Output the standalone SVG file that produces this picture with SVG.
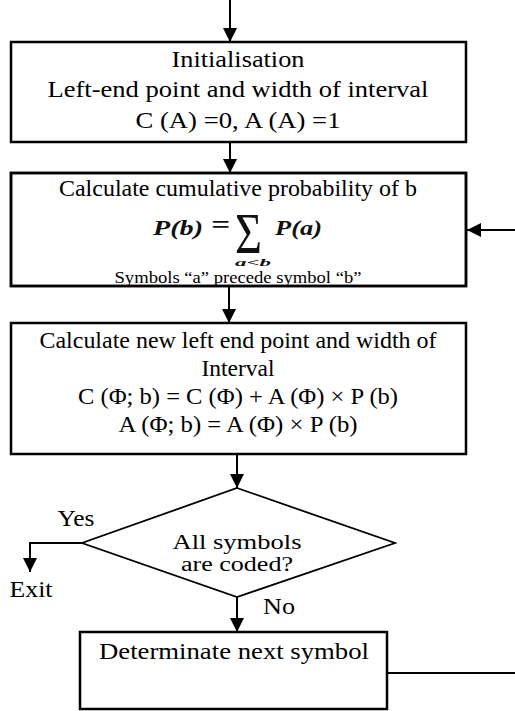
<svg xmlns="http://www.w3.org/2000/svg" width="515" height="711" viewBox="0 0 515 711">
<style>
.box{fill:#fff;stroke:#000;stroke-width:2.5}
.dia{fill:#fff;stroke:#000;stroke-width:1.8}
.ln{fill:none;stroke:#000;stroke-width:2}
.t{font-family:"Liberation Serif","Times New Roman",serif;font-size:23px;fill:#000;text-anchor:middle}
.d{font-family:"Liberation Serif","Times New Roman",serif;font-size:20px;fill:#000;text-anchor:middle}
.s{font-family:"Liberation Serif","Times New Roman",serif;font-size:16px;fill:#000;text-anchor:middle}
.m{font-family:"Liberation Serif","Times New Roman",serif;font-style:italic;font-weight:bold;fill:#111;}
</style>
<defs>
<marker id="ah" viewBox="0 0 14 14" refX="14" refY="7" markerWidth="14" markerHeight="14" markerUnits="userSpaceOnUse" orient="auto">
<path d="M0,0 L14,7 L0,14 Z" fill="#000"/>
</marker>
</defs>
<g id="connectors">
<line class="ln" x1="230" y1="0" x2="230" y2="42" marker-end="url(#ah)"/>
<line class="ln" x1="230" y1="142" x2="230" y2="173" marker-end="url(#ah)"/>
<line class="ln" x1="229" y1="286" x2="229" y2="323" marker-end="url(#ah)"/>
<line class="ln" x1="237" y1="454" x2="237" y2="488" marker-end="url(#ah)"/>
<polyline class="ln" points="82,543 30,543 30,572" marker-end="url(#ah)"/>
<line class="ln" x1="237" y1="597" x2="237" y2="632" marker-end="url(#ah)"/>
<line class="ln" x1="388" y1="673" x2="515" y2="673"/>
<line class="ln" x1="515" y1="230" x2="467" y2="230" marker-end="url(#ah)"/>
<text class="t" x="76" y="526" textLength="37" lengthAdjust="spacingAndGlyphs">Yes</text>
<text class="t" x="31" y="597" textLength="43" lengthAdjust="spacingAndGlyphs">Exit</text>
<text class="t" x="279" y="614" textLength="32" lengthAdjust="spacingAndGlyphs">No</text>
</g>
<g id="init">
<rect class="box" x="11" y="42" width="455" height="100"/>
<text class="t" x="238" y="67" textLength="133" lengthAdjust="spacingAndGlyphs">Initialisation</text>
<text class="t" x="238" y="97" textLength="381" lengthAdjust="spacingAndGlyphs">Left-end point and width of interval</text>
<text class="t" x="238" y="128" textLength="205" lengthAdjust="spacingAndGlyphs">C (A) =0, A (A) =1</text>
</g>
<g id="cumulative">
<rect class="box" x="11" y="173" width="455" height="113"/>
<text class="t" x="238" y="196" textLength="358" lengthAdjust="spacingAndGlyphs">Calculate cumulative probability of b</text>
<text class="m" x="153" y="235" font-size="22" textLength="50" lengthAdjust="spacingAndGlyphs">P(b)</text>
<text class="m" x="211" y="233" font-size="26" textLength="19" lengthAdjust="spacingAndGlyphs">=</text>
<text class="m"><tspan x="235" y="253" font-size="56" font-style="normal" font-weight="normal" textLength="27" lengthAdjust="spacingAndGlyphs">Σ</tspan><tspan x="235" y="266" font-size="11" textLength="36" lengthAdjust="spacingAndGlyphs">a&lt;b</tspan></text>
<text class="m" x="275" y="235" font-size="22" textLength="47" lengthAdjust="spacingAndGlyphs">P(a)</text>
<text class="s" x="238" y="283" textLength="247" lengthAdjust="spacingAndGlyphs">Symbols “a” precede symbol “b”</text>
<rect x="11" y="173" width="455" height="113" fill="none" stroke="#000" stroke-width="2.5"/>
</g>
<g id="update">
<rect class="box" x="11" y="323" width="455" height="131"/>
<text class="t" x="238" y="348" textLength="397" lengthAdjust="spacingAndGlyphs">Calculate new left end point and width of</text>
<text class="t" x="238" y="376" textLength="73" lengthAdjust="spacingAndGlyphs">Interval</text>
<text class="t" x="238" y="404" textLength="320" lengthAdjust="spacingAndGlyphs">C (Φ; b) = C (Φ) + A (Φ) × P (b)</text>
<text class="t" x="238" y="432" textLength="239" lengthAdjust="spacingAndGlyphs">A (Φ; b) = A (Φ) × P (b)</text>
</g>
<g id="decision">
<polygon class="dia" points="237,488 395,543 237,597 82,543"/>
<text class="d" x="237" y="549" textLength="129" lengthAdjust="spacingAndGlyphs">All symbols</text>
<text class="d" x="237" y="571" textLength="112" lengthAdjust="spacingAndGlyphs">are coded?</text>
</g>
<g id="next">
<rect class="box" x="80" y="632" width="307" height="77"/>
<text class="t" x="234" y="659" textLength="270" lengthAdjust="spacingAndGlyphs">Determinate next symbol</text>
</g>
</svg>
